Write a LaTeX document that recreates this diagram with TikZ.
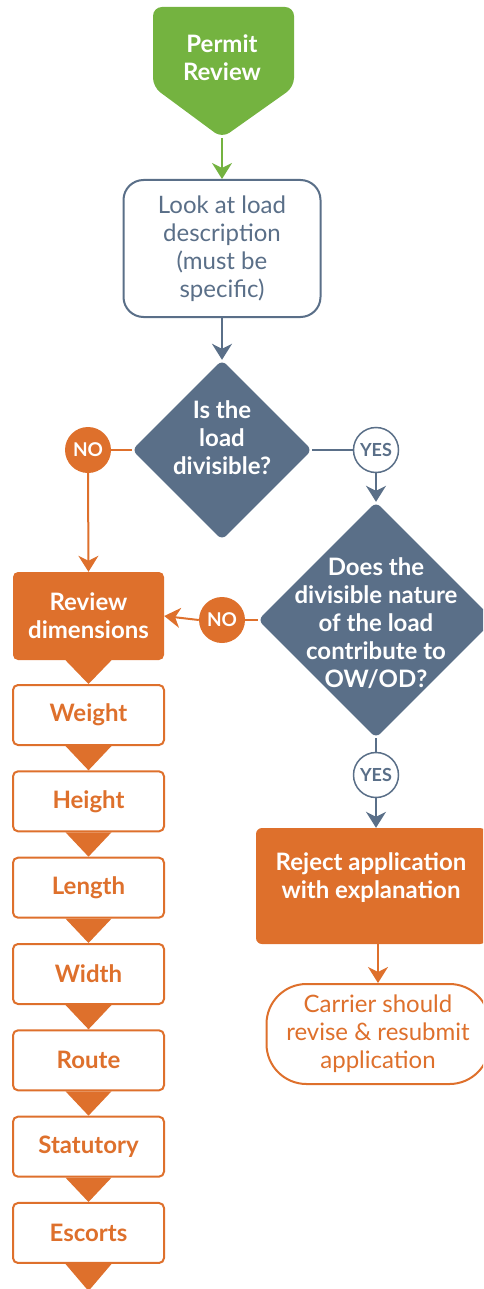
\documentclass[tikz,border=0pt]{standalone}
\usepackage{fontspec}
\setmainfont{Lato}
\usetikzlibrary{shapes.geometric}
\usetikzlibrary{arrows.meta}
\usetikzlibrary{calc}
\usepackage{xcolor}

\definecolor{permitgreen}{RGB}{116,179,64}
\definecolor{dimorange}{RGB}{222,112,44}
\definecolor{slate}{RGB}{90,111,136}

\begin{document}
\begin{tikzpicture}[x=1pt, y=-1pt]
        % ================= 样式定义 =================
        \tikzset{
            % 描述框:白底灰蓝边圆角矩形
            lookbox/.style={rectangle, rounded corners=20pt, draw=slate, line width=2pt, fill=white, minimum width=197pt, minimum height=137pt, inner sep=0pt, align=center, text=slate, font={\fontsize{24}{28}\selectfont}},
            % 判断菱形(文字另放)
            decision/.style={diamond, aspect=1, rounded corners=6pt, fill=slate, inner sep=0pt},
            dtext/.style={text=white, align=center, font={\fontsize{24}{28}\selectfont\bfseries}},
            % NO / YES 小圆
            nocircle/.style={circle, fill=dimorange, text=white, minimum size=46pt, inner sep=0pt, font={\fontsize{19}{20}\selectfont\bfseries}},
            yescircle/.style={circle, draw=slate, line width=1.5pt, fill=white, text=slate, minimum size=45pt, inner sep=0pt, font={\fontsize{18}{20}\selectfont\bfseries}},
            % 橙色框
            reviewbox/.style={rectangle, rounded corners=5pt, fill=dimorange, text=white, minimum width=151pt, minimum height=88pt, inner sep=0pt, align=center, font={\fontsize{24}{28}\selectfont\bfseries}},
            dimbox/.style={rectangle, rounded corners=5pt, draw=dimorange, line width=2pt, fill=white, text=dimorange, minimum width=151pt, minimum height=60pt, inner sep=0pt, font={\fontsize{24}{28}\selectfont\bfseries}},
            rejectbox/.style={rectangle, rounded corners=6pt, fill=dimorange, minimum width=230pt, minimum height=116pt, inner sep=0pt},
            carrierbox/.style={rectangle, rounded corners=40pt, draw=dimorange, line width=2pt, fill=white, text=dimorange, minimum width=223pt, minimum height=100pt, inner sep=0pt, align=center, font={\fontsize{24}{28}\selectfont}},
            % 连线样式
            gline/.style={permitgreen, line width=2pt},
            sline/.style={slate, line width=2pt},
            oline/.style={dimorange, line width=2pt},
            arr/.style={-{Stealth[length=16pt, width=20pt, inset=5pt]}}
        }

        \useasboundingbox (0,0) rectangle (483,1289);
        \clip (0,0) rectangle (483,1289);

        % ================= 起点:Permit Review =================
        \fill[permitgreen, rounded corners=9pt] (153,7) -- (294,7) -- (294,87) -- (222,138) -- (153,87) -- cycle;
        \coordinate (permittip) at (222,138);
        \node[dtext] (permit) at (222,58) {Permit\\Review};

        % ================= 中间主线 =================
        \node[lookbox] (look) at (222,248.5) {Look at load\\description\\(must be\\specific)};

        \node[decision, minimum width=180pt, minimum height=180pt] (q1) at (222,450) {};
        \node[dtext] (q1text) at ([yshift=12pt]q1.center) {Is the\\load\\divisible?};

        \node[nocircle] (no1) at (88,450) {NO};
        \node[yescircle] (yes1) at (376,450) {YES};

        \node[decision, minimum width=236pt, minimum height=236pt] (q2) at (376,620) {};
        \node[dtext] (q2text) at ([yshift=-3pt]q2.center) {Does the\\divisible nature\\of the load\\contribute to\\OW/OD?};

        \node[nocircle] (no2) at (222,620) {NO};
        \node[yescircle] (yes2) at (376,775) {YES};

        % ================= 右侧:驳回 =================
        \node[rejectbox] (reject) at (371,886) {};
        \node[dtext] (rejecttext) at ([yshift=8pt]reject.center) {Reject application\\with explanation};
        \node[carrierbox] (carrier) at (378,1034) {Carrier should\\revise \& resubmit\\application};

        % ================= 左侧:尺寸审查 =================
        \node[reviewbox] (review) at (88.5,616) {Review\\dimensions};
        \foreach \lbl [count=\i] in {Weight,Height,Length,Width,Route,Statutory,Escorts} {
            \node[dimbox] (d\i) at (88.5,{715+86.33*(\i-1)}) {\lbl};
        }
        \coordinate (tail) at (88.5,1291);

        % 框之间的倒三角
        \foreach \a/\b in {review/d1, d1/d2, d2/d3, d3/d4, d4/d5, d5/d6, d6/d7} {
            \fill[dimorange] ([xshift=-23pt]\a.south) -- ([xshift=23pt]\a.south) -- (\b.north) -- cycle;
        }
        \fill[dimorange] ([xshift=-23pt]d7.south) -- ([xshift=23pt]d7.south) -- (tail) -- cycle;

        % ================= 连线 =================
        \draw[gline, arr] (permittip) -- (look.north);
        \draw[sline, arr] (look.south) -- (q1.north);
        \draw[oline] (q1.west) -- (no1.east);
        \draw[oline, arr] (no1.south) -- (review.north);
        \draw[sline] (q1.east) -- (yes1.west);
        \draw[sline, arr] (yes1.south) -- (q2.north);
        \draw[oline] (q2.west) -- (no2.east);
        \draw[oline, arr] (no2.west) -- (review.east);
        \draw[sline] (q2.south) -- (yes2.north);
        \draw[sline, arr] (yes2.south) -- (yes2.south |- reject.north);
        \draw[oline, arr] (reject.south -| carrier.north) -- (carrier.north);

    \end{tikzpicture}
\end{document}
